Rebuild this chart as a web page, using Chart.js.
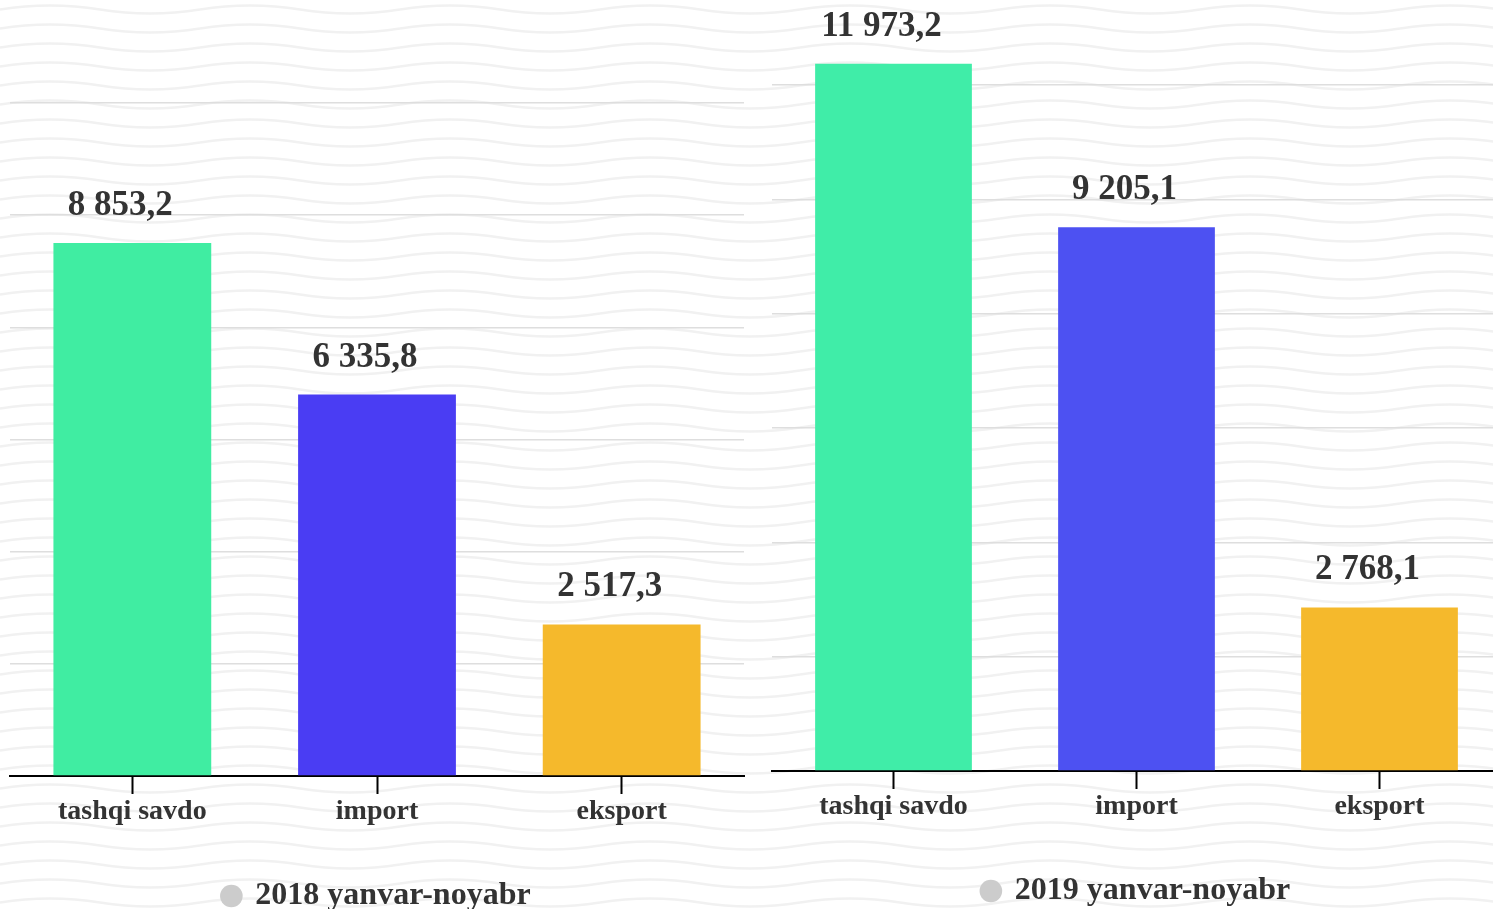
<!DOCTYPE html>
<html>
<head>
<meta charset="utf-8">
<script src="https://cdn.jsdelivr.net/npm/chart.js@4"></script>
<style>
  html, body { margin: 0; padding: 0; }
  body {
    width: 1493px; height: 909px; overflow: hidden; position: relative;
    background-color: #fff;
    background-image: url("data:image/svg+xml;utf8,<svg xmlns='http://www.w3.org/2000/svg' width='200' height='19'><path d='M0 9.5 Q50 1.5 100 9.5 T200 9.5' fill='none' stroke='%23f1f1f1' stroke-width='2.5'/></svg>");
    background-size: 200px 19px;
  }
  canvas { position: absolute; }
  #chart2018 { left: 0; top: 0; }
  #chart2019 { left: 762px; top: -5px; }
</style>
</head>
<body>
<canvas id="chart2018" width="754" height="930"></canvas>
<canvas id="chart2019" width="749" height="930"></canvas>
<script>
const categories = ["tashqi savdo", "import", "eksport"];
const values2018 = [8853.2, 6335.8, 2517.3];
const values2019 = [11973.2, 9205.1, 2768.1];
const periodLabels = ["2018 yanvar-noyabr", "2019 yanvar-noyabr"];
const colors2018 = ["#40eda2", "#4a3df3", "#f5b92c"];
const colors2019 = ["#40eda8", "#4d51f2", "#f5b92c"];

Chart.defaults.font.family = "'Liberation Serif', 'Times New Roman', serif";
Chart.defaults.font.weight = "bold";
Chart.defaults.color = "#333";

function fmt(v) {
  const parts = v.toFixed(1).split(".");
  return parts[0].replace(/\B(?=(\d{3})+(?!\d))/g, " ") + "," + parts[1];
}

// value above each bar
const valueLabels = {
  id: "valueLabels",
  afterDatasetsDraw(chart) {
    const ctx = chart.ctx;
    const ds = chart.data.datasets[0];
    ctx.save();
    ctx.font = "bold 35px 'Liberation Serif', 'Times New Roman', serif";
    ctx.fillStyle = "#333";
    ctx.textAlign = "center";
    ctx.textBaseline = "alphabetic";
    chart.getDatasetMeta(0).data.forEach((bar, i) => {
      ctx.fillText(fmt(ds.data[i]), bar.x - 12, bar.y - 28);
    });
    ctx.restore();
  }
};

function barChart(canvas, label, values, colors, yMax, gridStep) {
  new Chart(canvas.getContext("2d"), {
    type: "bar",
    data: {
      labels: categories,
      datasets: [{ label, data: values, backgroundColor: colors, barPercentage: 0.645, categoryPercentage: 1 }]
    },
    options: {
      responsive: false,
      animation: false,
      layout: { padding: { left: 10, right: 10, top: 0, bottom: 8 } },
      plugins: {
        tooltip: { enabled: false },
        legend: {
          position: "bottom",
          labels: {
            usePointStyle: true,
            boxWidth: 16,
            boxHeight: 16,
            font: { size: 32, weight: "bold" },
            color: "#333",
            generateLabels: () => [{
              text: label, fillStyle: "#cccccc", strokeStyle: "#cccccc", lineWidth: 0,
              pointStyle: "circle", hidden: false, datasetIndex: 0, fontColor: "#333"
            }]
          }
        }
      },
      scales: {
        x: {
          grid: { offset: false, drawOnChartArea: false, tickLength: 18, tickColor: "#000", tickWidth: 2 },
          border: { color: "#000", width: 2 },
          ticks: { font: { size: 28, weight: "bold" }, color: "#333", padding: 1 },
          afterFit(axis) { axis.height = 94; }
        },
        y: {
          min: 0,
          max: yMax,
          grid: { color: "#dedede", lineWidth: 1.5, drawTicks: false },
          border: { display: false },
          ticks: { display: false },
          afterBuildTicks(axis) {
            axis.ticks = [0, 1, 2, 3, 4, 5, 6].map(i => ({ value: i * gridStep }));
          }
        }
      }
    },
    plugins: [valueLabels]
  });
}

barChart(document.getElementById("chart2018"), periodLabels[0], values2018, colors2018, 12888, 1863);
barChart(document.getElementById("chart2019"), periodLabels[1], values2019, colors2019, 13135, 1935);
</script>
</body>
</html>
